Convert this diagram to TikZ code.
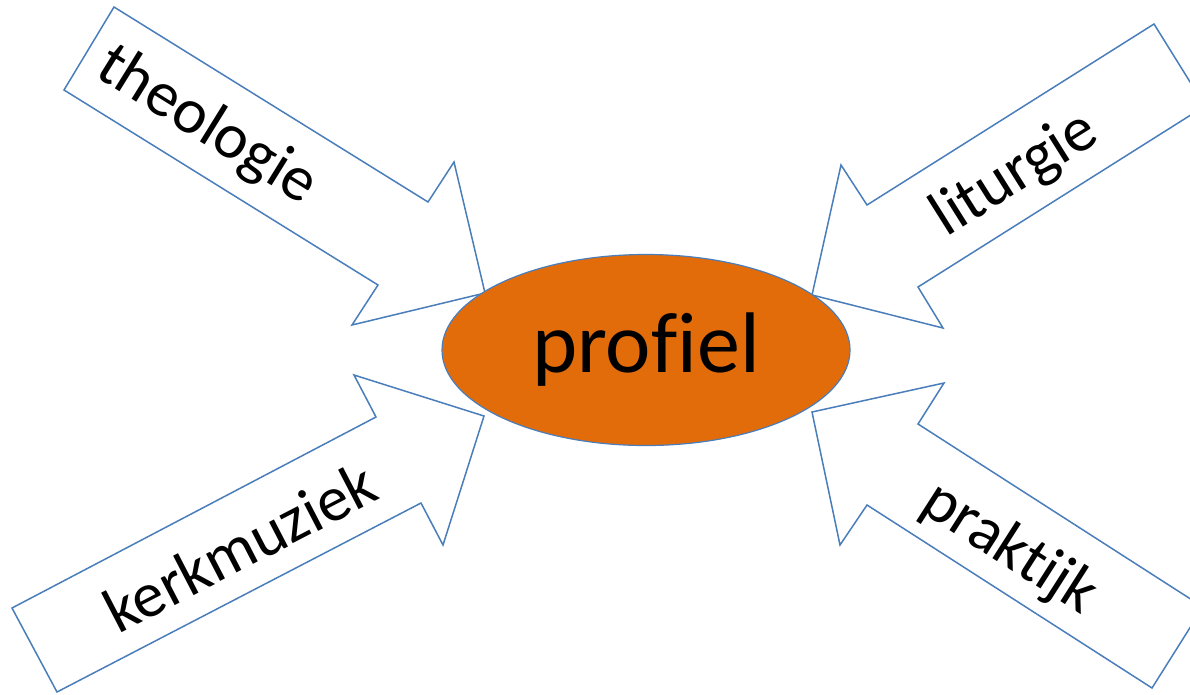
\documentclass[tikz,border=0pt]{standalone}
\usepackage{fontspec}
\setmainfont[Ligatures={NoCommon,NoContextual}]{Carlito}
\usetikzlibrary{shapes.geometric}
\definecolor{arrowblue}{HTML}{4A7EBB}
\definecolor{profielorange}{HTML}{E36C0A}
\tikzset{
  blockarrow/.style={draw=arrowblue, line width=1.5pt, fill=white, line join=miter},
  armlabel/.style={font=\fontsize{64}{70}\selectfont, inner sep=0pt, text=black},
  hub/.style={ellipse, draw=arrowblue, line width=1.2pt, fill=profielorange,
    minimum width=408pt, minimum height=191pt, inner sep=0pt,
    font=\fontsize{86}{94}\selectfont}
}
\begin{document}
\begin{tikzpicture}[x=1pt,y=-1pt]
\useasboundingbox (0,0) rectangle (1190,694);
\fill[white] (0,0) rectangle (1190,694);
\begin{scope}
\clip (0,0) rectangle (1190,694);
% top-left arrow
\draw[blockarrow] (114,7) -- (428,202) -- (454,162) -- (485,293) -- (352,325) -- (378,285) -- (64,90) -- cycle;
% bottom-left arrow
\draw[blockarrow] (12,608) -- (376,417) -- (354,375) -- (484,416) -- (443,545) -- (421,503) -- (57,692) -- cycle;
% top-right arrow
\draw[blockarrow] (1154,24) -- (867,205) -- (841,165) -- (812,295) -- (943,328) -- (918,287) -- (1205,106) -- cycle;
% bottom-right arrow
\draw[blockarrow] (1152,688) -- (867,505) -- (840,545) -- (812,412) -- (944,383) -- (918,424) -- (1203,607) -- cycle;
\end{scope}
\node[hub] (profiel) at (646,350) {prof\kern0pt iel};
\node[armlabel, rotate=-31.8] (theologie) at (207,126) {theologie};
\node[armlabel, rotate=27.4] (kerkmuziek) at (240,547) {kerkmuziek};
\node[armlabel, rotate=32.2] (liturgie) at (1015,175) {lit\kern0pt urgie};
\node[armlabel, rotate=-32.6] (praktijk) at (1009,549) {prakt\kern0pt ijk};
\end{tikzpicture}
\end{document}
